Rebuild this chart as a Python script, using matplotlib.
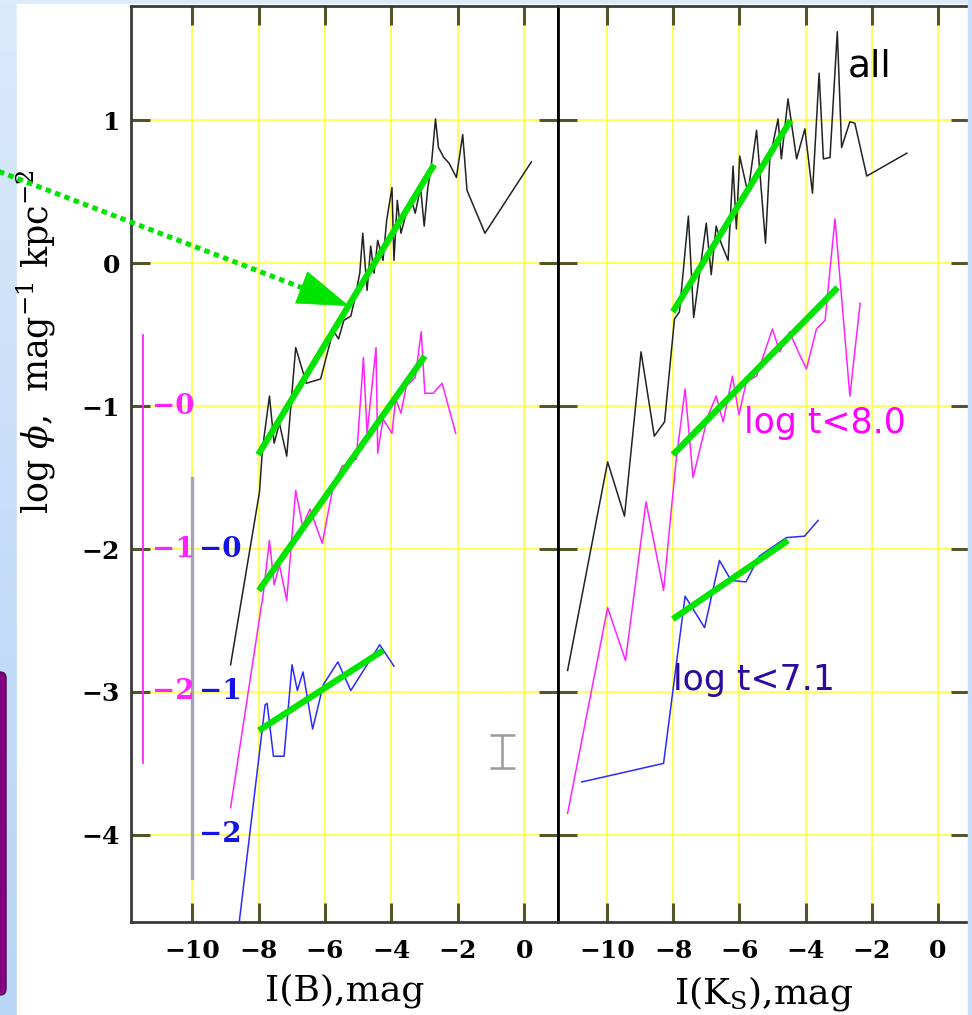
import numpy as np
import matplotlib
matplotlib.use("Agg")
import matplotlib.pyplot as plt
from matplotlib.patches import Rectangle, FancyBboxPatch
from matplotlib.lines import Line2D

# ---- data (x = absolute mag, y = log phi) ----
# left panel: I(B)
b_all_x = [-8.84, -7.97, -7.88, -7.67, -7.53, -7.37, -7.15, -6.88, -6.56, -6.13, -5.75, -5.59,
           -5.43, -5.22, -5.11, -4.95, -4.86, -4.73, -4.62, -4.52, -4.41, -4.25, -4.14, -3.98,
           -3.92, -3.82, -3.71, -3.55, -3.39, -3.28, -3.12, -3.01, -2.90, -2.80, -2.67, -2.58,
           -2.42, -2.26, -2.04, -1.85, -1.72, -1.18, 0.22]
b_all_y = [-2.81, -1.60, -1.30, -0.93, -1.26, -1.12, -1.35, -0.59, -0.84, -0.81, -0.47, -0.53,
           -0.40, -0.37, -0.26, -0.07, 0.21, -0.19, 0.12, -0.07, 0.16, 0.02, 0.30, 0.53,
           0.02, 0.44, 0.21, 0.35, 0.44, 0.35, 0.53, 0.26, 0.53, 0.67, 1.01, 0.81,
           0.74, 0.70, 0.60, 0.90, 0.51, 0.21, 0.71]
b_m_x = [-8.84, -7.85, -7.67, -7.53, -7.37, -7.15, -6.88, -6.67, -6.45, -6.08, -5.75, -5.48,
         -5.05, -4.84, -4.73, -4.46, -4.41, -4.25, -3.98, -3.87, -3.71, -3.55, -3.28, -3.10,
         -2.99, -2.74, -2.47, -2.06]
b_m_y = [-3.81, -2.30, -1.94, -2.25, -2.11, -2.36, -1.59, -1.84, -1.72, -1.96, -1.56, -1.42,
         -1.37, -0.66, -1.19, -0.59, -1.33, -1.09, -1.19, -0.95, -1.05, -0.86, -0.80, -0.48,
         -0.91, -0.91, -0.84, -1.19]
b_b_x = [-8.60, -7.80, -7.74, -7.55, -7.23, -6.99, -6.83, -6.66, -6.37, -6.05, -5.61, -5.22,
         -4.35, -3.92]
b_b_y = [-4.65, -3.09, -3.08, -3.45, -3.45, -2.81, -2.99, -2.86, -3.26, -2.95, -2.79, -2.99,
         -2.67, -2.82]
b_fits = [((-8.01, -2.71), (-1.34, 0.69)),
          ((-7.99, -2.99), (-2.29, -0.65)),
          ((-7.99, -4.25), (-3.27, -2.71))]

# right panel: I(Ks)
k_all_x = [-11.19, -9.98, -9.47, -8.97, -8.57, -8.26, -7.96, -7.81, -7.54, -7.38, -7.00, -6.85,
           -6.70, -6.55, -6.34, -6.19, -6.09, -5.99, -5.74, -5.48, -5.21, -5.08, -4.83, -4.73,
           -4.53, -4.27, -4.02, -3.79, -3.59, -3.46, -3.26, -3.04, -2.91, -2.66, -2.51, -2.15,
           -0.94]
k_all_y = [-2.85, -1.39, -1.77, -0.62, -1.21, -1.11, -0.39, -0.34, 0.33, -0.38, 0.28, -0.08,
           0.26, 0.14, 0.02, 0.68, 0.24, 0.75, 0.49, 0.93, 0.14, 0.73, 1.01, 0.73,
           1.15, 0.73, 0.94, 0.49, 1.33, 0.73, 0.74, 1.62, 0.81, 0.99, 0.98, 0.61,
           0.77]
k_m_x = [-11.19, -9.98, -9.44, -8.82, -8.29, -7.92, -7.64, -7.40, -6.95, -6.70, -6.49, -6.21,
         -6.01, -5.79, -5.48, -5.00, -4.78, -4.48, -4.22, -3.97, -3.67, -3.41, -3.11, -2.66,
         -2.35]
k_m_y = [-3.85, -2.41, -2.78, -1.67, -2.29, -1.40, -0.88, -1.50, -1.07, -0.93, -1.11, -0.79,
         -1.06, -0.83, -0.79, -0.46, -0.62, -0.48, -0.62, -0.74, -0.46, -0.40, 0.31, -0.93,
         -0.28]
k_b_x = [-10.76, -8.29, -7.64, -7.05, -6.60, -6.25, -5.80, -5.40, -4.58, -4.03, -3.62]
k_b_y = [-3.63, -3.50, -2.33, -2.55, -2.08, -2.22, -2.23, -2.05, -1.92, -1.91, -1.80]
k_fits = [((-8.01, -4.45), (-0.34, 1.00)),
          ((-8.01, -3.03), (-1.34, -0.17)),
          ((-8.01, -4.53), (-2.49, -1.94))]

xticks = [-10, -8, -6, -4, -2, 0]
yticks = [1, 0, -1, -2, -3, -4]
mag_scale = ["0", "1", "2"]      # magenta offset scale, at y = -1, -2, -3
blue_scale = ["0", "1", "2"]     # blue offset scale, at y = -2, -3, -4
err_x, err_y, err_h = -0.66, -3.415, 0.115
arrow_tip = (-5.27, -0.30)
arrow_base = (-6.65, -0.175)

W, H = 972, 1015
BLACK, MAG, BLUE, GREEN = "#222222", "#ff22ff", "#2a2aff", "#00e400"
TICKC = "#55552a"

plt.rcParams["font.family"] = ["DejaVu Serif"]
plt.rcParams["mathtext.fontset"] = "dejavuserif"

fig = plt.figure(figsize=(W / 100, H / 100), dpi=100)

# slide background
bg = fig.add_axes([0, 0, 1, 1], zorder=-10)
grad = np.linspace(0, 1, 256).reshape(-1, 1)
bg.imshow(grad, aspect="auto", extent=[0, 1, 0, 1],
          cmap=matplotlib.colors.LinearSegmentedColormap.from_list(
              "sl", ["#b9d6f6", "#c6def8", "#dbeafb"]), origin="lower")
bg.add_patch(Rectangle((17 / W, 0), (968 - 17) / W, 1 - 4 / H, color="white"))
bg.add_patch(FancyBboxPatch((-10 / W, 20 / H), 16 / W, 323 / H,
                            boxstyle="round,pad=0,rounding_size=0.006",
                            fc="#800080", ec="#5a005a", lw=1))
bg.set_axis_off()
bg.set_xlim(0, 1)
bg.set_ylim(0, 1)

yb, yt = 922, 6
axL = fig.add_axes([131 / W, 1 - yb / H, (558 - 131) / W, (yb - yt) / H])
axR = fig.add_axes([558 / W, 1 - yb / H, (970 - 558) / W, (yb - yt) / H])
axL.set_xlim(-11.84, 1.02)
axR.set_xlim(-11.48, 0.97)

fmt = matplotlib.ticker.FuncFormatter(lambda v, p: f"{int(v)}".replace("-", "\u2212"))
for ax in (axL, axR):
    ax.set_ylim(-4.61, 1.80)
    ax.set_xticks(xticks)
    ax.set_yticks(yticks)
    ax.grid(True, color="#ffff4d", lw=1.3, zorder=0)
    ax.tick_params(direction="in", length=14, width=2.2, color=TICKC,
                   top=True, right=True, labelsize=18, pad=12)
    for lab in ax.get_xticklabels() + ax.get_yticklabels():
        lab.set_fontweight("bold")
    for s in ax.spines.values():
        s.set_color("#3a3a3a")
        s.set_linewidth(2.0)
    ax.xaxis.set_major_formatter(fmt)

axL.yaxis.set_major_formatter(fmt)
axL.tick_params(axis="y", pad=8)
axR.tick_params(axis="y", labelleft=False)
axL.spines["right"].set_color("black")
axR.spines["left"].set_color("black")
axR.spines["right"].set_visible(False)

# curves
for ax, data, fits in (
        (axL, [(b_all_x, b_all_y, BLACK), (b_m_x, b_m_y, MAG), (b_b_x, b_b_y, BLUE)], b_fits),
        (axR, [(k_all_x, k_all_y, BLACK), (k_m_x, k_m_y, MAG), (k_b_x, k_b_y, BLUE)], k_fits)):
    for xs, ys, c in data:
        ax.plot(xs, ys, color=c, lw=1.1, zorder=3)
    for fx, fy in fits:
        ax.plot(fx, fy, color=GREEN, lw=4.5, solid_capstyle="butt", zorder=4)

# offset scales in left panel
axL.plot([-11.48, -11.48], [-0.5, -3.5], color=MAG, lw=1.3, zorder=3)
axL.plot([-10.0, -10.0], [-1.5, -4.3], color="#a4a4b4", lw=2.4, zorder=3)
for i, lab in enumerate(mag_scale):
    axL.text(-11.21, -1 - i, "\u2212" + lab, color=MAG, fontsize=20, fontweight="bold",
             ha="left", va="center", zorder=5)
for i, lab in enumerate(blue_scale):
    axL.text(-9.8, -2 - i, "\u2212" + lab, color="#1414e6", fontsize=20, fontweight="bold",
             ha="left", va="center", zorder=5)

axL.errorbar([err_x], [err_y], yerr=[err_h], color="#9a9a9a", capsize=9, lw=1.8,
             capthick=1.8, zorder=3)

axL.set_xlabel("I(B),mag", fontsize=26, labelpad=8)
axR.set_xlabel("I(K$_{\\rm S}$),mag", fontsize=26, labelpad=8)
fig.text(36 / W, 1 - 342 / H, r"log $\phi$,  mag$^{-1}$ kpc$^{-2}$", rotation=90,
         fontsize=25, ha="center", va="center")

axR.text(-2.05, 1.38, "all", fontsize=27, family="DejaVu Sans", color="black",
         ha="center", va="center", zorder=6)
axR.text(-5.85, -1.12, "log t<8.0", fontsize=25, family="DejaVu Sans", color="#ff00ff",
         ha="left", va="center", zorder=6)
axR.text(-8.0, -2.92, "log t<7.1", fontsize=25, family="DejaVu Sans", color="#2b0c9e",
         ha="left", va="center", zorder=6)

# green dotted pointer coming in from the left edge of the slide
base_fig = fig.transFigure.inverted().transform(axL.transData.transform(arrow_base))
fig.add_artist(Line2D([-0.005, base_fig[0]], [1 - 170 / H, base_fig[1]],
                      transform=fig.transFigure, color=GREEN, lw=3.6,
                      linestyle=(0, (1.1, 0.9)), dash_capstyle="butt", zorder=7))
axL.annotate("", xy=arrow_tip, xytext=arrow_base,
             arrowprops=dict(arrowstyle="-|>,head_length=3.6,head_width=1.2",
                             mutation_scale=10, color=GREEN, lw=0.5,
                             shrinkA=0, shrinkB=0),
             zorder=7, annotation_clip=False)

# right edge strip of the slide covers the panel border
fig.patches.append(Rectangle((968 / W, 0), 4 / W, 1, transform=fig.transFigure,
                             color="#c8ddf7", zorder=20))

fig.savefig("out.png", dpi=100)
